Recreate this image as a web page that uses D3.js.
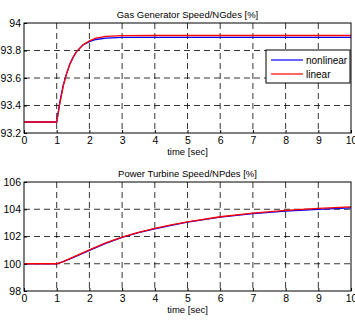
<!DOCTYPE html>
<html><head><meta charset="utf-8">
<script src="https://cdn.jsdelivr.net/npm/d3@7"></script>
<style>
body{margin:0;background:#fff;}
svg{display:block;font-family:"Liberation Sans",Arial,sans-serif;}
</style></head>
<body><svg id="c" width="355" height="322"></svg>
<script>
// ---- data ----
const timeNG = [0, 1, 1.1, 1.2, 1.3, 1.4, 1.5, 1.6, 1.8, 2.0, 2.2, 2.5, 3.0, 4, 5, 6, 7, 8, 9, 10];
const ngNonlinear = [93.28, 93.28, 93.43, 93.55, 93.63, 93.70, 93.75, 93.79, 93.84, 93.865, 93.88, 93.89, 93.895, 93.895, 93.895, 93.895, 93.895, 93.895, 93.895, 93.895];
const ngLinear    = [93.28, 93.28, 93.42, 93.54, 93.63, 93.70, 93.75, 93.79, 93.84, 93.87, 93.89, 93.902, 93.908, 93.909, 93.909, 93.909, 93.909, 93.909, 93.909, 93.909];
const timeNP = [0, 1, 1.2, 1.5, 2, 2.5, 3, 3.5, 4, 4.5, 5, 6, 7, 8, 9, 10];
const npNonlinear = [100, 100, 100.15, 100.45, 100.98, 101.5, 101.93, 102.28, 102.56, 102.82, 103.05, 103.42, 103.68, 103.86, 103.99, 104.1];
const npLinear    = [100, 100, 100.16, 100.48, 101.02, 101.53, 101.96, 102.3, 102.6, 102.85, 103.08, 103.45, 103.72, 103.92, 104.06, 104.17];
const xTicks = [0,1,2,3,4,5,6,7,8,9,10];
const ngTicks = [93.2, 93.4, 93.6, 93.8, 94];
const npTicks = [98, 100, 102, 104, 106];
const titles = ["Gas Generator Speed/NGdes [%]", "Power Turbine Speed/NPdes [%]"];
const xLabel = "time [sec]";
const seriesNames = ["nonlinear", "linear"];
const colors = ["#0000ff", "#ff0000"];

const svg = d3.select("#c");

function panel(top, bottom, yDomain, yTicks, t, ys, title, legend) {
  const left = 24, right = 351;
  const x = d3.scaleLinear().domain([0,10]).range([left, right]);
  const y = d3.scaleLinear().domain(yDomain).range([bottom, top]);
  const g = svg.append("g");
  // grid
  g.selectAll(".gx").data(xTicks.slice(1,-1)).join("line")
    .attr("x1", d=>x(d)).attr("x2", d=>x(d)).attr("y1", top).attr("y2", bottom)
    .attr("stroke","#000").attr("stroke-width",0.8).attr("stroke-dasharray","6,4");
  g.selectAll(".gy").data(yTicks.slice(1,-1)).join("line")
    .attr("y1", d=>y(d)).attr("y2", d=>y(d)).attr("x1", left).attr("x2", right)
    .attr("stroke","#000").attr("stroke-width",0.8).attr("stroke-dasharray","6,4");
  // lines
  const line = d3.line().x((d,i)=>x(t[i])).y(d=>y(d));
  [0,1].forEach(k => {
    g.append("path").datum(ys[k]).attr("d", line).attr("fill","none")
      .attr("stroke", colors[k]).attr("stroke-width", 1.3);
  });
  // axes
  const xa = g.append("g").attr("transform",`translate(0,${bottom})`)
    .call(d3.axisBottom(x).tickValues(xTicks).tickSize(-3).tickPadding(4).tickFormat(d3.format("d")));
  const ya = g.append("g").attr("transform",`translate(${left},0)`)
    .call(d3.axisLeft(y).tickValues(yTicks).tickSize(-3).tickPadding(3).tickFormat(d=>String(+d.toFixed(1))));
  [xa, ya].forEach(a => {
    a.select(".domain").remove();
    a.selectAll("text").attr("font-size", 10.5).attr("fill","#000").attr("font-family","Liberation Sans, Arial, sans-serif");
    a.selectAll("line").attr("stroke","#000");
  });
  g.append("rect").attr("x", left).attr("y", top).attr("width", right-left).attr("height", bottom-top)
    .attr("fill","none").attr("stroke","#000").attr("stroke-width",1);
  g.append("text").attr("x", (left+right)/2).attr("y", top-5).attr("text-anchor","middle")
    .attr("font-size", 9.5).text(title);
  g.append("text").attr("x", (left+right)/2).attr("y", bottom+22).attr("text-anchor","middle")
    .attr("font-size", 9.5).text(xLabel);
  if (legend) {
    const lx = 266, ly = 50, lw = 84, lh = 33;
    const lg = g.append("g");
    lg.append("rect").attr("x", lx).attr("y", ly).attr("width", lw).attr("height", lh)
      .attr("fill","#fff").attr("stroke","#000").attr("stroke-width",1);
    seriesNames.forEach((n,i) => {
      const yy = ly + 10 + i*14;
      lg.append("line").attr("x1", lx+5).attr("x2", lx+37).attr("y1", yy).attr("y2", yy)
        .attr("stroke", colors[i]).attr("stroke-width", 1.2);
      lg.append("text").attr("x", lx+40).attr("y", yy+3.5).attr("font-size", 10).text(n);
    });
  }
}

panel(23, 133, [93.2, 94], ngTicks, timeNG, [ngNonlinear, ngLinear], titles[0], true);
panel(182, 291, [98, 106], npTicks, timeNP, [npNonlinear, npLinear], titles[1], false);
</script></body></html>
